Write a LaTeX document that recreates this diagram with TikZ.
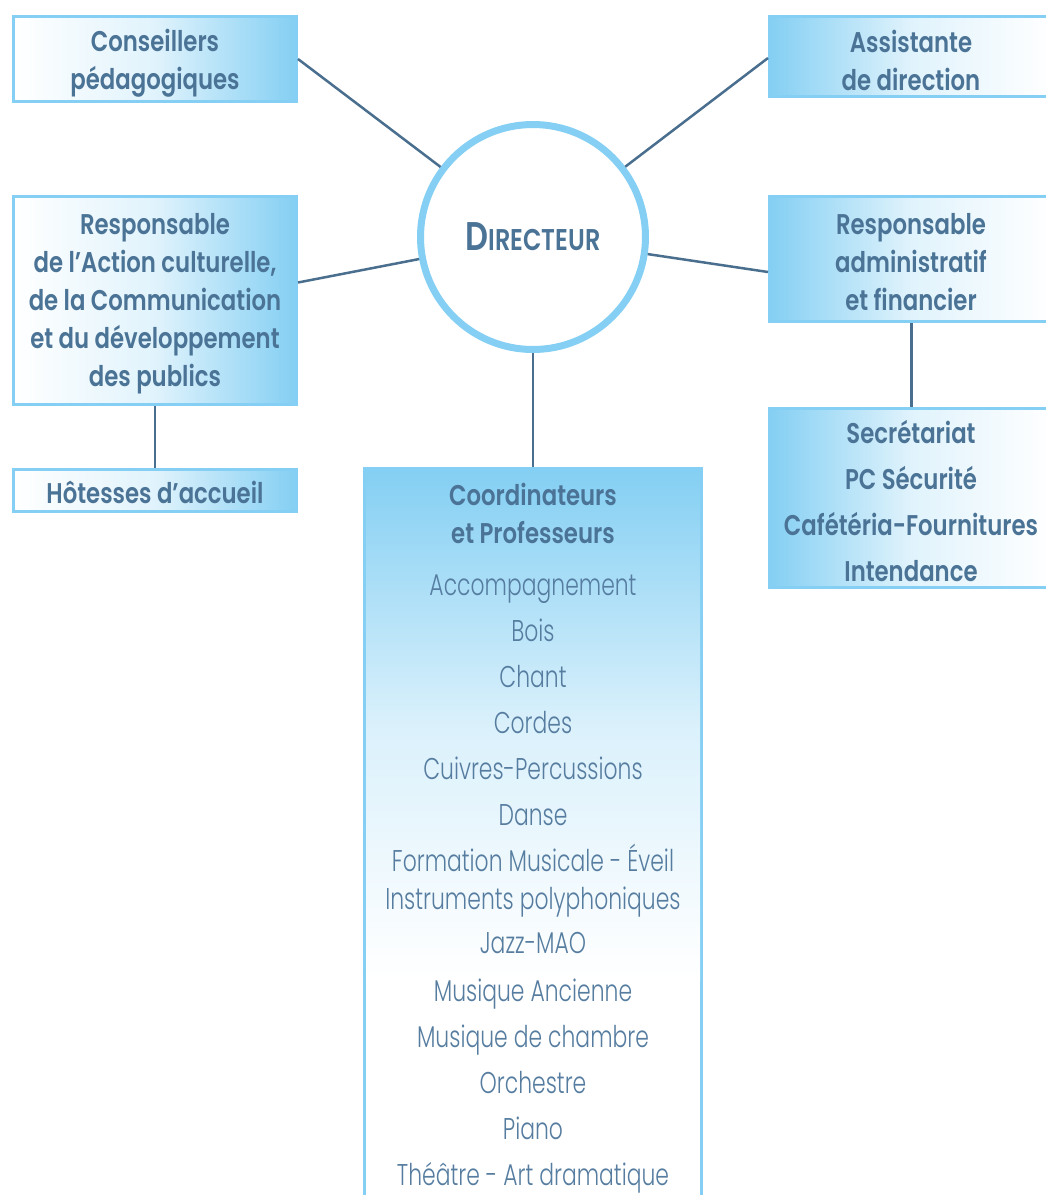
\documentclass[tikz,border=0pt]{standalone}
\usepackage{fontspec}
\setmainfont{Poppins}
\newfontfamily\bfnt{Poppins SemiBold}[FakeStretch=0.8]
\newfontfamily\ltfnt{Poppins Light}[FakeStretch=0.73]
\definecolor{lb}{HTML}{84CFF3}
\definecolor{tb}{HTML}{4A7396}
\definecolor{ln}{HTML}{4A6E8E}
\definecolor{lt}{HTML}{567DA0}
\begin{document}
\begin{tikzpicture}[x=1pt,y=-1pt,
  box/.style={draw=lb, line width=3pt, inner sep=0pt, rectangle},
  lshade/.style={left color=white, right color=lb, middle color=lb!25},
  rshade/.style={left color=lb, right color=white, middle color=lb!25},
  btxt/.style={text=tb, align=center, inner sep=0pt, font=\bfnt\fontsize{28.5}{38}\selectfont},
  ltxt/.style={text=lt, inner sep=0pt, anchor=base, font=\ltfnt\fontsize{30}{34}\selectfont},
  conn/.style={draw=ln, line width=2.5pt}]
\clip (0,0) rectangle (1046,1195);
% boxes
\node[box, lshade, minimum width=283, minimum height=85] (b1) at (155,59) {};
\node[box, rshade, minimum width=284, minimum height=80] (b2) at (911.5,56) {};
\node[box, lshade, minimum width=283, minimum height=208] (b3) at (155,300.5) {};
\node[box, lshade, minimum width=283, minimum height=42] (b4) at (155,490.5) {};
\node[box, rshade, minimum width=284, minimum height=125] (b5) at (911.5,259) {};
\node[box, rshade, minimum width=284, minimum height=179] (b6) at (911.5,498) {};
\node[box, fill=white, minimum width=337, minimum height=741.5] (b7) at (533,839.25) {};
\shade[top color=lb, bottom color=white, middle color=lb!30] (366,470) rectangle (700,980);
\node[draw=lb, line width=7pt, circle, fill=white, minimum size=225, inner sep=0pt] (dir) at (533,237) {};
% connectors
\draw[conn] (b1.east) -- (dir);
\draw[conn] ([yshift=-2pt]b2.west) -- (dir);
\draw[conn] ([yshift=18pt]b3.east) -- (dir);
\draw[conn] ([yshift=-13pt]b5.west) -- (dir);
\draw[conn] (dir.south) -- (b7.north);
\draw[conn] (b3.south) -- (b4.north);
\draw[conn] (b5.south) -- (b6.north);
% texts
\node[btxt] (t1) at (155,63) {Conseillers\\pédagogiques};
\node[btxt] (t2) at (911,60) {Assistante\\de direction};
\node[btxt] (t3) at (155,303.5) {Responsable\\de l’Action culturelle,\\de la Communication\\et du développement\\des publics};
\node[btxt] (t4) at (155,492) {Hôtesses d’accueil};
\node[btxt] (t5) at (911,262) {Responsable\\administratif\\et financier};
\node[btxt, font=\bfnt\fontsize{28.5}{46}\selectfont] (t6) at (911,501) {Secrétariat\\PC Sécurité\\Cafétéria-Fournitures\\Intendance};
\node[btxt] (t7) at (533,513) {Coordinateurs\\et Professeurs};
\node[text=tb, inner sep=0pt, font=\bfnt] (td) at (533,237) {\fontsize{40}{42}\selectfont D\fontsize{30}{42}\selectfont IRECTEUR};
\foreach \y/\t [count=\i] in {585/Accompagnement, 631/Bois, 677/Chant, 723/Cordes, 769/Cuivres-Percussions, 815/Danse, 861/Formation Musicale - Éveil, 899/Instruments polyphoniques, 943/Jazz-MAO, 991/Musique Ancienne, 1037/Musique de chambre, 1083/Orchestre, 1129/Piano, 1175/Théâtre - Art dramatique}
  \node[ltxt] (p\i) at (533,\y+10) {\t};
\end{tikzpicture}
\end{document}
